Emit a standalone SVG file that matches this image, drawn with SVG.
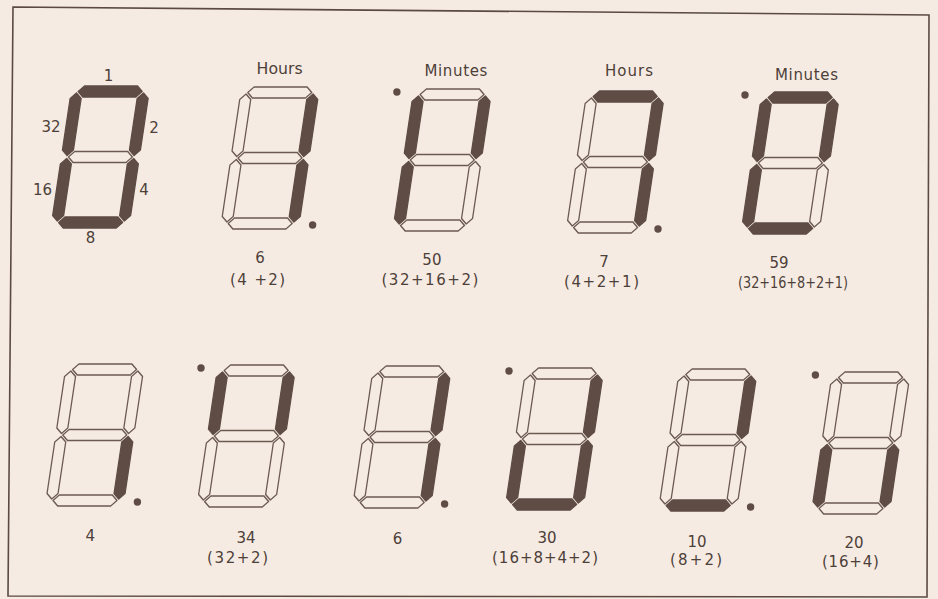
<svg xmlns="http://www.w3.org/2000/svg" xmlns:xlink="http://www.w3.org/1999/xlink" width="938" height="599" viewBox="0 0 938 599">
<style>
.bg{fill:#f6ebe2}
.frame{fill:none;stroke:#5a4a42;stroke-width:1.6}
.seg{stroke-linejoin:round}
.off{fill:#f6ebe2;stroke:#6b5a52;stroke-width:1.3}
.on{fill:#5e4c45;stroke:#5e4c45;stroke-width:1.3}
.dot{fill:#5e4c45}
text{font-family:"DejaVu Sans","Liberation Sans",sans-serif;font-size:15px;fill:#4d3f39;text-anchor:middle}
</style>
<defs>
<polygon id="sa" class="seg" points="7,5.5 12.5,0 65.5,0 71,5.5 65.5,11 12.5,11"/>
<polygon id="sg" class="seg" points="7,71 12.5,65.5 65.5,65.5 71,71 65.5,76.5 12.5,76.5"/>
<polygon id="sd" class="seg" points="7,136.5 12.5,131 65.5,131 71,136.5 65.5,142 12.5,142"/>
<polygon id="sf" class="seg" points="5.5,7 11,12.5 11,64 5.5,69.5 0,64 0,12.5"/>
<polygon id="sb" class="seg" points="72.5,7 78,12.5 78,64 72.5,69.5 67,64 67,12.5"/>
<polygon id="se" class="seg" points="5.5,72.5 11,78 11,129.5 5.5,135 0,129.5 0,78"/>
<polygon id="sc" class="seg" points="72.5,72.5 78,78 78,129.5 72.5,135 67,129.5 67,78"/>
</defs>
<rect class="bg" x="0" y="0" width="938" height="599"/>
<polygon class="frame" points="13,7 929,15 927,597 8,596"/>

<g id="legend" transform="translate(72,86)">
<g transform="skewX(-8.5)">
<use href="#sa" class="on"/><use href="#sb" class="on"/><use href="#sc" class="on"/><use href="#sd" class="on"/><use href="#se" class="on"/><use href="#sf" class="on"/><use href="#sg" class="off"/>
</g>
</g>
<g id="legend-labels">
<text x="108.5" y="81">1</text>
<text x="51" y="132">32</text>
<text x="154" y="133">2</text>
<text x="42.5" y="195">16</text>
<text x="144" y="195">4</text>
<text x="90.5" y="243">8</text>
</g>

<g id="d-hours-1" transform="translate(241.6,87)">
<g transform="skewX(-8.5)">
<use href="#sa" class="off"/><use href="#sb" class="on"/><use href="#sc" class="on"/><use href="#sd" class="off"/><use href="#se" class="off"/><use href="#sf" class="off"/><use href="#sg" class="off"/>
</g>
<circle class="dot" cx="71" cy="138" r="3.7"/>
<text x="38" y="-13" textLength="46" lengthAdjust="spacingAndGlyphs">Hours</text>
<text x="18.5" y="176">6</text>
<text x="16" y="198" textLength="55" lengthAdjust="spacing">(4 +2)</text>
</g>

<g id="d-minutes-1" transform="translate(413.9,89)">
<g transform="skewX(-8.5)">
<use href="#sa" class="off"/><use href="#sb" class="on"/><use href="#sc" class="off"/><use href="#sd" class="off"/><use href="#se" class="on"/><use href="#sf" class="on"/><use href="#sg" class="off"/>
</g>
<circle class="dot" cx="-17" cy="3" r="3.7"/>
<text x="42" y="-13" textLength="63" lengthAdjust="spacing">Minutes</text>
<text x="18" y="176">50</text>
<text x="16" y="196" textLength="97" lengthAdjust="spacing">(32+16+2)</text>
</g>

<g id="d-hours-2" transform="translate(587,91)">
<g transform="skewX(-8.5)">
<use href="#sa" class="on"/><use href="#sb" class="on"/><use href="#sc" class="on"/><use href="#sd" class="off"/><use href="#se" class="off"/><use href="#sf" class="off"/><use href="#sg" class="off"/>
</g>
<circle class="dot" cx="71" cy="138" r="3.7"/>
<text x="42" y="-15" textLength="48" lengthAdjust="spacing">Hours</text>
<text x="17" y="176">7</text>
<text x="14.5" y="196" textLength="75" lengthAdjust="spacing">(4+2+1)</text>
</g>

<g id="d-minutes-2" transform="translate(762,92)">
<g transform="skewX(-8.5)">
<use href="#sa" class="on"/><use href="#sb" class="on"/><use href="#sc" class="off"/><use href="#sd" class="on"/><use href="#se" class="on"/><use href="#sf" class="on"/><use href="#sg" class="off"/>
</g>
<circle class="dot" cx="-17" cy="3" r="3.7"/>
<text x="44.5" y="-12" textLength="63" lengthAdjust="spacing">Minutes</text>
<text x="17" y="176">59</text>
<text x="31" y="196" textLength="110" lengthAdjust="spacingAndGlyphs">(32+16+8+2+1)</text>
</g>

<g id="b-hours-1" transform="translate(66.4,364)">
<g transform="skewX(-8.5)">
<use href="#sa" class="off"/><use href="#sb" class="off"/><use href="#sc" class="on"/><use href="#sd" class="off"/><use href="#se" class="off"/><use href="#sf" class="off"/><use href="#sg" class="off"/>
</g>
<circle class="dot" cx="71" cy="138" r="3.7"/>
<text x="24" y="177">4</text>
</g>

<g id="b-minutes-1" transform="translate(218,365)">
<g transform="skewX(-8.5)">
<use href="#sa" class="off"/><use href="#sb" class="on"/><use href="#sc" class="off"/><use href="#sd" class="off"/><use href="#se" class="off"/><use href="#sf" class="on"/><use href="#sg" class="off"/>
</g>
<circle class="dot" cx="-17" cy="3" r="3.7"/>
<text x="28" y="178">34</text>
<text x="19.5" y="198" textLength="61" lengthAdjust="spacing">(32+2)</text>
</g>

<g id="b-hours-2" transform="translate(373.6,366)">
<g transform="skewX(-8.5)">
<use href="#sa" class="off"/><use href="#sb" class="on"/><use href="#sc" class="on"/><use href="#sd" class="off"/><use href="#se" class="off"/><use href="#sf" class="off"/><use href="#sg" class="off"/>
</g>
<circle class="dot" cx="71" cy="138" r="3.7"/>
<text x="24" y="178">6</text>
</g>

<g id="b-minutes-2" transform="translate(526,368)">
<g transform="skewX(-8.5)">
<use href="#sa" class="off"/><use href="#sb" class="on"/><use href="#sc" class="on"/><use href="#sd" class="on"/><use href="#se" class="on"/><use href="#sf" class="off"/><use href="#sg" class="off"/>
</g>
<circle class="dot" cx="-17" cy="3" r="3.7"/>
<text x="21" y="175">30</text>
<text x="19" y="195" textLength="106" lengthAdjust="spacing">(16+8+4+2)</text>
</g>

<g id="b-hours-3" transform="translate(679.6,369)">
<g transform="skewX(-8.5)">
<use href="#sa" class="off"/><use href="#sb" class="on"/><use href="#sc" class="off"/><use href="#sd" class="on"/><use href="#se" class="off"/><use href="#sf" class="off"/><use href="#sg" class="off"/>
</g>
<circle class="dot" cx="71" cy="138" r="3.7"/>
<text x="17.4" y="178">10</text>
<text x="16.4" y="196" textLength="52" lengthAdjust="spacing">(8+2)</text>
</g>

<g id="b-minutes-3" transform="translate(832.4,372)">
<g transform="skewX(-8.5)">
<use href="#sa" class="off"/><use href="#sb" class="off"/><use href="#sc" class="on"/><use href="#sd" class="off"/><use href="#se" class="on"/><use href="#sf" class="off"/><use href="#sg" class="off"/>
</g>
<circle class="dot" cx="-17" cy="3" r="3.7"/>
<text x="21.6" y="176">20</text>
<text x="18" y="195" textLength="57" lengthAdjust="spacing">(16+4)</text>
</g>
</svg>
